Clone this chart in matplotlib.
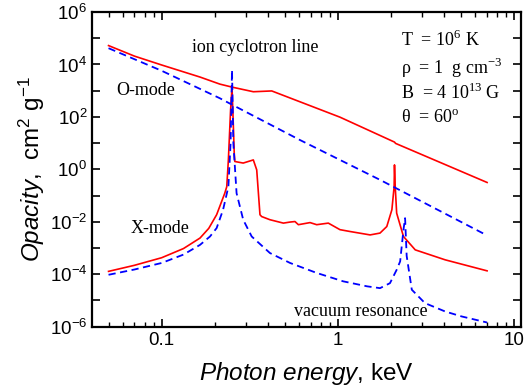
import numpy as np
import matplotlib
matplotlib.use("Agg")
import matplotlib.pyplot as plt
from matplotlib.ticker import LogLocator, FuncFormatter, NullLocator

plt.rcParams['font.family'] = 'Liberation Sans'
plt.rcParams['mathtext.fontset'] = 'custom'
plt.rcParams['mathtext.rm'] = 'Liberation Sans'
plt.rcParams['mathtext.it'] = 'Liberation Sans:italic'

# O-mode, red solid (photon energy in keV, log10 opacity)
o_red_E = [0.05, 0.07, 0.1, 0.165, 0.214, 0.253, 0.331, 0.421, 1.026, 2.09, 2.12, 7.0]
o_red_lk = [4.72, 4.32, 3.98, 3.52, 3.25, 3.13, 2.96, 2.99, 1.99, 1.04, 0.99, -0.50]

# O-mode, blue dashed
o_blue_E = [0.05, 0.1, 0.214, 0.25, 0.608, 1.73, 7.0]
o_blue_lk = [4.62, 3.76, 2.71, 2.47, 1.12, -0.40, -2.52]

# X-mode, red solid
x_red_E = [0.05, 0.07, 0.1, 0.133, 0.165, 0.185, 0.205, 0.228, 0.234, 0.239,
           0.246, 0.2506, 0.254, 0.258, 0.260, 0.290, 0.331, 0.346, 0.361, 0.369,
           0.411, 0.490, 0.534, 0.570, 0.596, 0.694, 0.757, 0.881, 1.026, 1.17,
           1.52, 1.73, 1.89, 2.02, 2.08, 2.09, 2.11, 2.15, 2.35, 2.74, 4.05, 7.0]
x_red_lk = [-3.89, -3.66, -3.37, -3.02, -2.62, -2.25, -1.73, -0.91, -0.66, 0.36,
            2.27, 3.13, 2.0, 0.6, 0.30, 0.24, 0.36, -0.02, -1.73, -1.80,
            -1.92, -2.05, -2.01, -1.99, -2.11, -2.03, -2.11, -2.05, -2.30, -2.37,
            -2.50, -2.43, -2.18, -1.54, -0.66, 0.17, -0.66, -1.67, -2.56, -3.07, -3.45, -3.87]

# X-mode, blue dashed
x_blue_E = [0.05, 0.07, 0.1, 0.133, 0.165, 0.188, 0.205, 0.223, 0.239, 0.246,
            0.2506, 0.255, 0.266, 0.290, 0.324, 0.411, 0.535, 0.757, 1.07, 1.46,
            1.73, 1.97, 2.15, 2.25, 2.35, 2.40, 2.45, 2.62, 3.11, 4.05, 5.03, 7.0]
x_blue_lk = [-4.02, -3.82, -3.57, -3.25, -2.88, -2.56, -2.24, -1.54, -0.66, 1.01,
             3.79, 1.01, -0.91, -1.92, -2.56, -3.19, -3.57, -3.95, -4.27, -4.46,
             -4.53, -4.34, -3.83, -3.51, -2.30, -1.86, -3.3, -4.59, -5.10, -5.42, -5.61, -5.84]

fig = plt.figure(figsize=(5.24, 3.9), dpi=100)
ax = fig.add_axes([0.1756, 0.1623, 0.8187, 0.8069])

red = '#ff0000'
blue = '#0000ff'
ax.plot(o_red_E, 10 ** np.array(o_red_lk), color=red, lw=1.2)
ax.plot(x_red_E, 10 ** np.array(x_red_lk), color=red, lw=1.2)
ax.plot(o_blue_E, 10 ** np.array(o_blue_lk), color=blue, lw=1.3, dashes=(4, 2.5))
ax.plot(x_blue_E, 10 ** np.array(x_blue_lk), color=blue, lw=1.3, dashes=(4, 2.5))

ax.set_xscale('log')
ax.set_yscale('log')
ax.set_xlim(0.0403, 10.9)
ax.set_ylim(1e-6, 1e6)

ax.yaxis.set_major_locator(LogLocator(base=10, numticks=30))
ax.yaxis.set_minor_locator(NullLocator())


def ylab(v, pos):
    e = int(round(np.log10(v)))
    if e % 2:
        return ''
    return r'10$^{%d}$' % e


ax.yaxis.set_major_formatter(FuncFormatter(ylab))
ax.xaxis.set_major_locator(LogLocator(base=10, numticks=10))
ax.xaxis.set_minor_locator(LogLocator(base=10, subs=np.arange(2, 10), numticks=10))
ax.xaxis.set_major_formatter(FuncFormatter(lambda v, p: '%g' % v))

ax.tick_params(which='both', direction='in', top=True, right=True, labelsize=13.5)
ax.tick_params(which='major', length=6, width=1.2)
ax.tick_params(which='minor', length=3.5, width=1.0)
for s in ax.spines.values():
    s.set_linewidth(1.6)

ax.set_xlabel(r'$\mathit{Photon\ energy}$, keV', fontsize=17.5, labelpad=8)
ax.set_ylabel(r'$\mathit{Opacity}$,  cm$^{2}$ g$^{-1}$', fontsize=17.5, labelpad=2)

serif = dict(family='Liberation Serif', fontsize=13, transform=ax.transAxes, va='center')
ax.text(0.381, 0.886, 'ion cyclotron line', ha='center', **serif)
ax.text(0.0576, 0.75, 'O-mode', ha='left', **serif)
ax.text(0.091, 0.3127, 'X-mode', ha='left', **serif)
ax.text(0.470, 0.048, 'vacuum resonance', ha='left', **serif)
ax.text(0.721, 0.911, r'T  = 10$^\mathdefault{6}$ K', ha='left', **serif)
ax.text(0.721, 0.822, r'ρ  = 1  g cm$^\mathdefault{-3}$', ha='left', **serif)
ax.text(0.721, 0.742, r'B  = 4 10$^\mathdefault{13}$ G', ha='left', **serif)
ax.text(0.721, 0.663, r'θ  = 60$^\mathdefault{o}$', ha='left', **serif)

fig.savefig('out.png', dpi=100)
